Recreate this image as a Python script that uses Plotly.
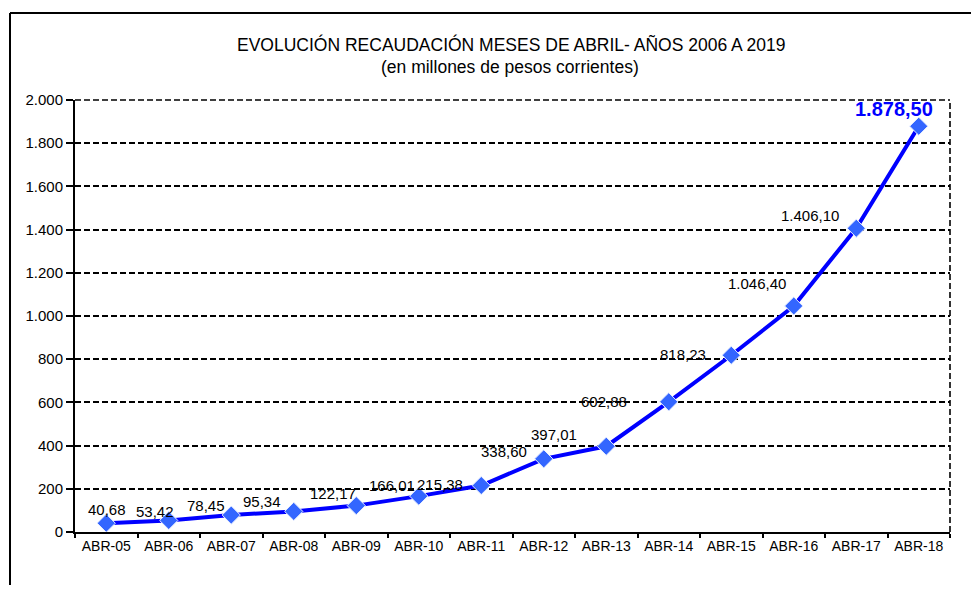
import plotly.graph_objects as go

categories = ["ABR-05", "ABR-06", "ABR-07", "ABR-08", "ABR-09", "ABR-10", "ABR-11",
              "ABR-12", "ABR-13", "ABR-14", "ABR-15", "ABR-16", "ABR-17", "ABR-18"]
values = [40.68, 53.42, 78.45, 95.34, 122.17, 166.01, 215.38,
          338.60, 397.01, 602.88, 818.23, 1046.40, 1406.10, 1878.50]
y_ticks = [0, 200, 400, 600, 800, 1000, 1200, 1400, 1600, 1800, 2000]

# label offsets (px) relative to each point
label_dx = [1, -14, -25, -32, -23, -27, -41, -40, -52, -65, -48, -37, -46, -25]
label_dy = [14, 9, 10, 10, 12, 11, 1, 7, 12, 0, 1, 22, 13, 17]

FONT = "Liberation Sans, Arial, sans-serif"
W, H = 963, 577
ML, MR, MT, MB = 67, 21, 92, 53
PW, PH = W - ML - MR, H - MT - MB


def px_x(page_x):
    return (page_x - 8 - ML) / PW


def px_y(page_y):
    return (H - MB - (page_y - 8)) / PH


def fmt(v):
    s = f"{v:,.2f}"
    return s.replace(",", "#").replace(".", ",").replace("#", ".")


fig = go.Figure()
fig.add_trace(go.Scatter(
    x=categories, y=values, mode="lines+markers",
    line=dict(color="#0000FF", width=4),
    marker=dict(symbol="diamond", size=14, color="#3366FF",
                line=dict(color="#E8EEFF", width=1)),
    hoverinfo="skip", showlegend=False,
))

annotations = []
n = len(values)
for i, (c, v) in enumerate(zip(categories, values)):
    last = i == n - 1
    annotations.append(dict(
        x=c, y=v, xref="x", yref="y", text=fmt(v), showarrow=False,
        xanchor="center", yanchor="middle",
        xshift=label_dx[i], yshift=label_dy[i],
        font=dict(family=FONT, size=20 if last else 15,
                  color="#0000FF" if last else "#000000",
                  weight="bold" if last else "normal"),
    ))

annotations.append(dict(
    x=px_x(511), y=px_y(44), xref="paper", yref="paper", showarrow=False,
    text="EVOLUCIÓN RECAUDACIÓN MESES DE ABRIL- AÑOS 2006 A 2019",
    xanchor="center", yanchor="middle",
    font=dict(family=FONT, size=17.5, color="#000000"),
))
annotations.append(dict(
    x=px_x(510), y=px_y(67), xref="paper", yref="paper", showarrow=False,
    text="(en millones de pesos corrientes)",
    xanchor="center", yanchor="middle",
    font=dict(family=FONT, size=17.5, color="#000000"),
))

DASH = "6px,3px"
shapes = [
    # outer frame: top and left
    dict(type="line", xref="paper", yref="paper", x0=px_x(10), x1=px_x(990),
         y0=px_y(13), y1=px_y(13), line=dict(color="black", width=2)),
    dict(type="line", xref="paper", yref="paper", x0=px_x(10), x1=px_x(10),
         y0=px_y(600), y1=px_y(13), line=dict(color="black", width=2)),
    # dashed right and top border of plot area
    dict(type="line", xref="paper", yref="paper", x0=1, x1=1, y0=0, y1=1,
         line=dict(color="black", width=1.6, dash=DASH)),
    dict(type="line", xref="paper", yref="paper", x0=0, x1=1, y0=1, y1=1,
         line=dict(color="black", width=1.6, dash=DASH)),
]

fig.update_layout(
    width=W, height=H,
    margin=dict(l=ML, r=MR, t=MT, b=MB),
    paper_bgcolor="white", plot_bgcolor="white",
    separators=",.",
    font=dict(family=FONT, color="black"),
    annotations=annotations, shapes=shapes,
)
fig.update_xaxes(
    type="category", range=[-0.5, n - 0.5],
    showline=True, linecolor="black", linewidth=2,
    ticks="outside", tickson="boundaries", ticklen=4, tickwidth=1.5, tickcolor="black",
    showgrid=False, zeroline=False,
    tickfont=dict(family=FONT, size=14, color="black"),
)
fig.update_yaxes(
    range=[0, 2000], tickvals=y_ticks, tickformat=",d",
    showline=True, linecolor="black", linewidth=2,
    ticks="outside", ticklen=7, tickwidth=1.5, tickcolor="black",
    showgrid=True, gridcolor="black", gridwidth=1.6, griddash=DASH,
    zeroline=False,
    tickfont=dict(family=FONT, size=15, color="black"),
)

fig.write_html("out.html")
